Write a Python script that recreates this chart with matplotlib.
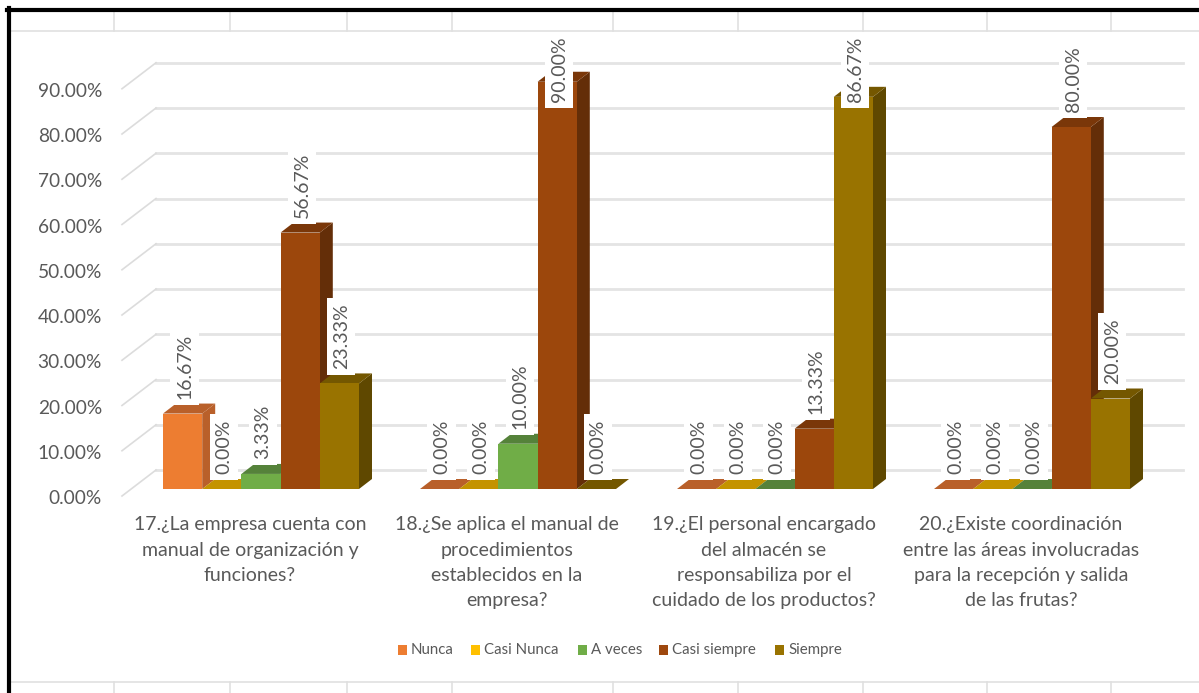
import matplotlib
matplotlib.use("Agg")
import matplotlib.pyplot as plt
from matplotlib.patches import Polygon, Rectangle

plt.rcParams['font.family'] = ['Lato', 'DejaVu Sans']

preguntas = ["17.¿La empresa cuenta con\nmanual de organización y\nfunciones?",
             "18.¿Se aplica el manual de\nprocedimientos\nestablecidos en la\nempresa?",
             "19.¿El personal encargado\ndel almacén se\nresponsabiliza por el\ncuidado de los productos?",
             "20.¿Existe coordinación\nentre las áreas involucradas\npara la recepción y salida\nde las frutas?"]
series = ["Nunca", "Casi Nunca", "A veces", "Casi siempre", "Siempre"]
nunca = [16.67, 0, 0, 0]
casi_nunca = [0, 0, 0, 0]
a_veces = [3.33, 10.0, 0, 0]
casi_siempre = [56.67, 90.0, 13.33, 80.0]
siempre = [23.33, 0, 86.67, 20.0]
valores = [nunca, casi_nunca, a_veces, casi_siempre, siempre]
ticks = [0, 10, 20, 30, 40, 50, 60, 70, 80, 90]

# front, top, side
colores = [("#ED7D31", "#B9602A", "#B9602A"),
           ("#C49300", "#C49300", "#8F6C00"),
           ("#70AD47", "#55823A", "#4A7030"),
           ("#9C470C", "#7A3709", "#642E08"),
           ("#997300", "#745700", "#5F4800")]
leyenda = ["#ED7D31", "#FFC000", "#70AD47", "#9E480E", "#997300"]
gris = "#595959"

W, H = 1199, 693
fig = plt.figure(figsize=(W/100, H/100), dpi=100)
ax = fig.add_axes([0, 0, 1, 1])
ax.axis('off')
# one x unit = one bar, one y unit = 1 %
px_x = 39.2
px_y = 4.525
x0 = 163   # pixel of the first bar
y0 = 489   # pixel of 0 %
ax.set_xlim(-x0/px_x, (W-x0)/px_x)
ax.set_ylim(-(H-y0)/px_y, y0/px_y)

dx = 13/px_x    # bar depth
dy = 10/px_y
grupo = 257/px_x
wall_x = (156-x0)/px_x
wall_end = (1183-x0)/px_x
wall_dy = (489-470)/px_y
side_x = (122-x0)/px_x
side_dy = -(496-489)/px_y

for t in ticks:
    ax.plot([wall_x, wall_end], [t+wall_dy, t+wall_dy], color="#E4E4E4", lw=2, zorder=1)
    ax.plot([side_x, wall_x], [t+side_dy, t+wall_dy], color="#DCDCDC", lw=1.2, zorder=1)
    ax.text(side_x-0.51, t+side_dy-0.6, "%.2f%%" % t, color=gris, fontsize=13.8,
            ha='right', va='center', zorder=5)

z = 2
etiquetas = []
for g in range(len(preguntas)):
    for s in range(len(series)):
        v = valores[s][g]
        x = g*grupo + s
        ax.bar(x, v, width=1, align='edge', color=colores[s][0], zorder=z+0.2, lw=0)
        ax.add_patch(Polygon([(x, v), (x+dx, v+dy), (x+1+dx, v+dy), (x+1, v)],
                             fc=colores[s][1], lw=0, zorder=z+0.1))
        ax.add_patch(Polygon([(x+1, 0), (x+1+dx, dy), (x+1+dx, v+dy), (x+1, v)],
                             fc=colores[s][2], lw=0, zorder=z))
        etiquetas.append((x, v))
        z += 1

# labels go over the bars, the tall ones are pushed down to stay inside the chart
tope = 85.5
for x, v in etiquetas:
    ax.text(x+0.55, min(v+dy+1.0, tope), "%.2f%%" % v, rotation=90, color=gris, fontsize=14,
            ha='center', va='bottom', zorder=200,
            bbox=dict(fc='white', ec='none', pad=4))

for g, p in enumerate(preguntas):
    ax.text(g*grupo+2.22, -6.0, p, color=gris, fontsize=14, ha='center', va='top',
            linespacing=1.6, zorder=5)

# legend
ley_x = [(398-163)/px_x, (471-163)/px_x, (578-163)/px_x, (659-163)/px_x, (775-163)/px_x]
ley_y = -(650-489)/px_y
for lx, c, s in zip(ley_x, leyenda, series):
    ax.add_patch(Rectangle((lx, ley_y-1), 9/px_x, 2, fc=c, lw=0))
    ax.text(lx+13/px_x, ley_y, s, color=gris, fontsize=10.8, ha='left', va='center')

# spreadsheet behind the picture, drawn in figure pixels
def raya(x1, y1, x2, y2, c="#E0E0E0", lw=1.2):
    fig.add_artist(plt.Line2D([x1/W, x2/W], [1-y1/H, 1-y2/H], color=c, lw=lw))

raya(11, 31, W, 31)
raya(11, 682, W, 682)
for x in [114, 230, 347, 452, 613, 738, 863, 987, 1111]:
    raya(x, 12, x, 31)
    raya(x, 682, x, H)
raya(9, 8, 9, H, c="black", lw=3)
raya(7, 10, W, 10, c="black", lw=3)

fig.savefig("out.png", dpi=100)
